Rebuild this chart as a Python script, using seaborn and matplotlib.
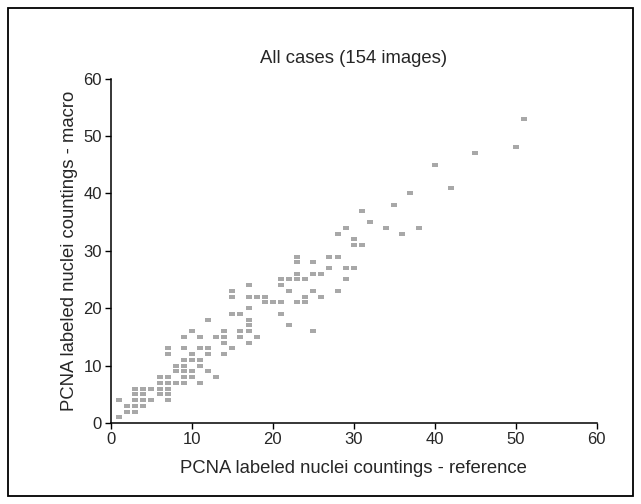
import pandas as pd
import seaborn as sns
import matplotlib.pyplot as plt
from matplotlib.patches import Rectangle

# PCNA counts (integer grid, overlapping points drawn once)
reference = [1, 1, 2, 2, 3, 3, 3, 3, 3, 4, 4, 4, 4, 5, 5, 6, 6, 6, 6,
             7, 7, 7, 7, 7, 7, 7, 8, 8, 8, 9, 9, 9, 9, 9, 9, 9,
             10, 10, 10, 10, 10, 11, 11, 11, 11, 11, 12, 12, 12, 12, 13, 13,
             14, 14, 14, 14, 15, 15, 15, 15, 16, 16, 16,
             17, 17, 17, 17, 17, 17, 17, 18, 18, 19, 19, 20, 21, 21, 21, 21,
             22, 22, 22,
             23, 23, 23, 23, 23, 24, 24, 24, 25, 25, 25, 25, 26, 26, 27, 27,
             28, 28, 28, 29, 29, 29, 30, 30, 30, 31, 31, 32,
             34, 35, 36, 37, 38, 40, 42, 45, 50, 51]
macro = [1, 4, 2, 3, 2, 3, 4, 5, 6, 3, 4, 5, 6, 4, 6, 5, 6, 7, 8,
         4, 5, 6, 7, 8, 12, 13, 7, 9, 10, 7, 8, 9, 10, 11, 13, 15,
         8, 9, 11, 12, 16, 7, 10, 11, 13, 15, 9, 12, 13, 18, 8, 15,
         12, 14, 15, 16, 13, 19, 22, 23, 15, 16, 19,
         14, 16, 17, 18, 20, 22, 24, 15, 22, 21, 22, 21, 19, 21, 24, 25,
         17, 23, 25,
         21, 25, 26, 28, 29, 21, 22, 25, 16, 23, 26, 28, 22, 26, 27, 29,
         23, 29, 33, 25, 27, 34, 27, 31, 32, 31, 37, 35,
         34, 38, 33, 40, 34, 45, 41, 47, 48, 53]

df = pd.DataFrame({"reference": reference, "macro": macro})

sns.set_style("ticks")
plt.rcParams["font.family"] = ["Liberation Sans", "DejaVu Sans"]

fig = plt.figure(figsize=(6.41, 5.04), dpi=100)
ax = fig.add_axes([0.1732, 0.1607, 0.7574, 0.6835])

rect_marker = [(-1, -0.64), (1, -0.64), (1, 0.64), (-1, 0.64)]
sns.scatterplot(data=df, x="reference", y="macro", ax=ax, marker=rect_marker,
                s=20, color="#a8a8a8", linewidth=0)

ax.set_xlim(0, 60)
ax.set_ylim(0, 60)
ax.set_xticks(range(0, 61, 10))
ax.set_yticks(range(0, 61, 10))
ax.tick_params(labelsize=12, length=4.5, width=1, color="black", pad=2)
for side in ["left", "bottom"]:
    ax.spines[side].set_linewidth(1.1)
    ax.spines[side].set_color("black")
sns.despine(ax=ax)

ax.set_title("All cases (154 images)", fontsize=13.3, pad=11)
ax.set_xlabel("PCNA labeled nuclei countings - reference", fontsize=13.3, labelpad=9)
ax.set_ylabel("PCNA labeled nuclei countings - macro", fontsize=13.3, labelpad=4)

# frame round the whole figure
fig.patches.append(Rectangle((8 / 641, 8 / 504), 625 / 641, 488 / 504,
                             transform=fig.transFigure, fill=False,
                             edgecolor="black", linewidth=1.3))

plt.savefig("out.png", dpi=100)
